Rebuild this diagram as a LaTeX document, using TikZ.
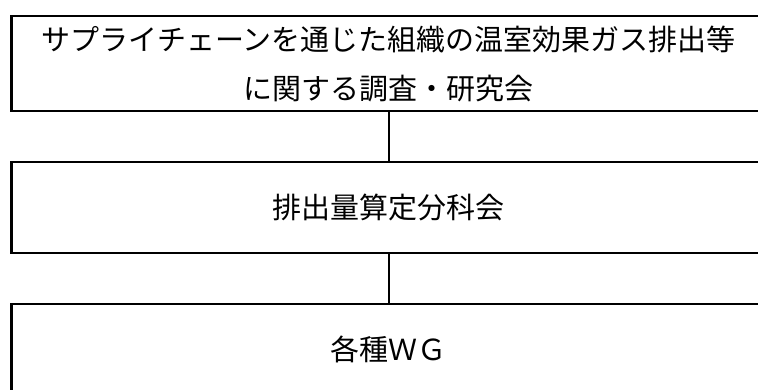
\documentclass[tikz,border=0pt]{standalone}
\usepackage{fontspec}
\newfontfamily\jpfont{Noto Sans CJK JP}
\tikzset{
  orgbox/.style={draw, line width=2.8pt, rectangle, minimum width=754pt, align=center,
    inner sep=0pt, font=\jpfont\fontsize{29}{49}\selectfont},
  orgline/.style={line width=2pt}
}
\begin{document}
\begin{tikzpicture}[x=1pt,y=-1pt]
        \useasboundingbox (0,0) rectangle (758,389);
        % Boxes
        \node[orgbox, minimum height=95pt] (kenkyukai) at (388.5,63.5)
            {サプライチェーンを通じた組織の温室効果ガス排出等\\に関する調査・研究会};
        \node[orgbox, minimum height=91pt] (bunkakai) at (388.5,207.5) {排出量算定分科会};
        \node[orgbox, minimum height=91pt] (wg) at (388.5,349.5) {各種ＷＧ};

        % Lines
        \draw[orgline] (kenkyukai.south) -- (bunkakai.north);
        \draw[orgline] (bunkakai.south) -- (wg.north);
    \end{tikzpicture}
\end{document}
